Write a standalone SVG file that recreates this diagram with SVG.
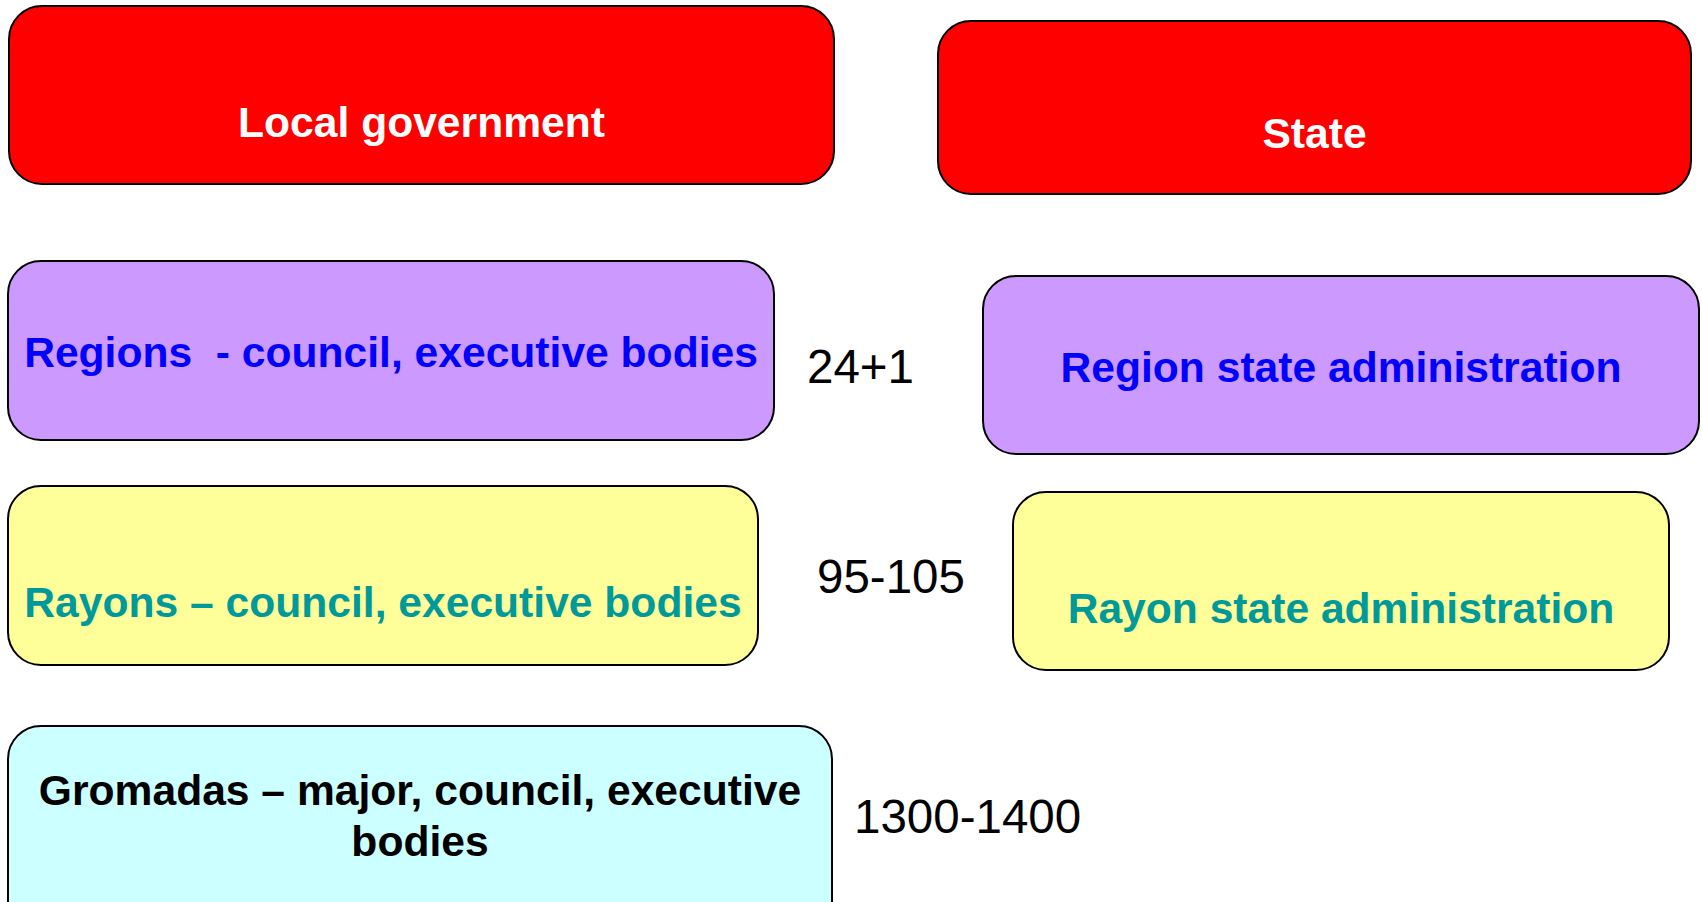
<svg xmlns="http://www.w3.org/2000/svg" width="1702" height="902" viewBox="0 0 1702 902">
<style>
.box{stroke:#000;stroke-width:2}
.lbl{font-family:"Liberation Sans",Arial,sans-serif;font-weight:bold;font-size:42.6px;text-anchor:middle}
.num{font-family:"Liberation Sans",Arial,sans-serif;font-size:47.5px;fill:#000}
.red{fill:#FF0000}.pur{fill:#CC99FF}.yel{fill:#FFFF99}.cya{fill:#CCFFFF}
</style>
<rect width="1702" height="902" fill="#fff"/>
<g id="local-government">
<rect class="box red" x="9" y="6" width="825" height="178" rx="33" ry="33"/>
<text class="lbl" x="421.5" y="137" fill="#fff">Local government</text>
</g>
<g id="state">
<rect class="box red" x="938" y="21" width="753" height="173" rx="33" ry="33"/>
<text class="lbl" x="1314.5" y="148" fill="#fff">State</text>
</g>
<g id="regions">
<rect class="box pur" x="8" y="261" width="766" height="179" rx="33" ry="33"/>
<text class="lbl" x="391" y="367" fill="#0000FF" xml:space="preserve">Regions  - council, executive bodies</text>
</g>
<g id="region-state-admin">
<rect class="box pur" x="983" y="276" width="716" height="178" rx="33" ry="33"/>
<text class="lbl" x="1341" y="382" fill="#0000FF">Region state administration</text>
</g>
<g id="rayons">
<rect class="box yel" x="8" y="486" width="750" height="179" rx="33" ry="33"/>
<text class="lbl" x="383" y="617" fill="#009999">Rayons – council, executive bodies</text>
</g>
<g id="rayon-state-admin">
<rect class="box yel" x="1013" y="492" width="656" height="178" rx="33" ry="33"/>
<text class="lbl" x="1341" y="623" fill="#009999">Rayon state administration</text>
</g>
<g id="gromadas">
<rect class="box cya" x="8" y="726" width="824" height="210" rx="33" ry="33"/>
<text class="lbl" x="420" y="805" fill="#000">Gromadas – major, council, executive</text>
<text class="lbl" x="420" y="856" fill="#000">bodies</text>
</g>
<g id="counts">
<text class="num" x="807" y="383">24+1</text>
<text class="num" x="817" y="593">95-105</text>
<text class="num" x="854" y="833">1300-1400</text>
</g>
<g id="connectors"></g>
</svg>
